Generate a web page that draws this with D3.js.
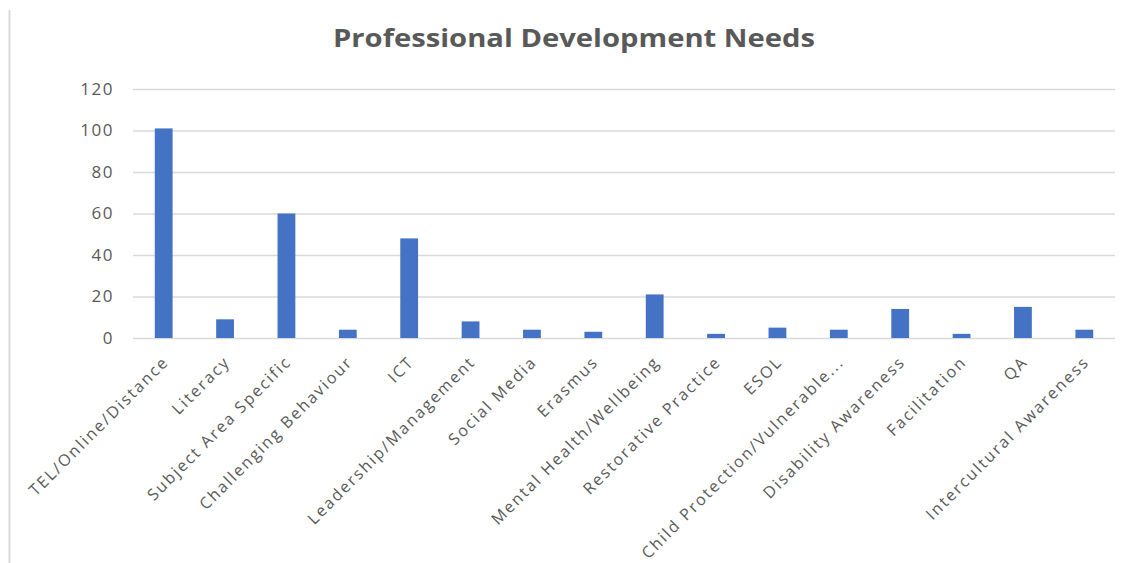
<!DOCTYPE html>
<html>
<head>
<meta charset="utf-8">
<script src="https://cdn.jsdelivr.net/npm/d3@7"></script>
<style>
  html, body { margin: 0; padding: 0; background: #fff; }
  svg { display: block; }
</style>
</head>
<body>
<svg id="chart" width="1131" height="563"></svg>
<script>
// Survey responses: number of staff naming each professional development need
const categories = [
  "TEL/Online/Distance", "Literacy", "Subject Area Specific", "Challenging Behaviour",
  "ICT", "Leadership/Management", "Social Media", "Erasmus",
  "Mental Health/Wellbeing", "Restorative Practice", "ESOL", "Child Protection/Vulnerable...",
  "Disability Awareness", "Facilitation", "QA", "Intercultural Awareness"
];
const responses = [101, 9, 60, 4, 48, 8, 4, 3, 21, 2, 5, 4, 14, 2, 15, 4];
const yTicks = [0, 20, 40, 60, 80, 100, 120];
const chartTitle = "Professional Development Needs";

const svg = d3.select("#chart");
const W = 1131, H = 563;
const margin = { left: 133, right: 16, top: 89, bottom: 225 };
const plotW = W - margin.left - margin.right;
const plotH = H - margin.top - margin.bottom;

const textColor = "#595959";
const font = "'Open Sans', 'Liberation Sans', sans-serif";

// chart frame edge on the left
svg.append("line")
  .attr("x1", 9.5).attr("x2", 9.5)
  .attr("y1", 10).attr("y2", H)
  .attr("stroke", "#d9d9d9").attr("stroke-width", 2);

const x = d3.scaleBand()
  .domain(categories)
  .range([0, plotW])
  .paddingInner(0.71)
  .paddingOuter(0.355);

const y = d3.scaleLinear()
  .domain([0, 120])
  .range([plotH, 0]);

const g = svg.append("g")
  .attr("transform", `translate(${margin.left},${margin.top})`);

// horizontal gridlines with value labels
const yAxis = d3.axisLeft(y)
  .tickValues(yTicks)
  .tickSize(-plotW)
  .tickPadding(19);

const yg = g.append("g").call(yAxis);
yg.select(".domain").remove();
yg.selectAll(".tick line")
  .attr("stroke", "#d9d9d9")
  .attr("stroke-width", 1.5);
yg.selectAll(".tick text")
  .attr("fill", textColor)
  .style("font-family", font)
  .style("font-size", "17px")
  .style("letter-spacing", "1.5px");

// bars
g.selectAll("rect.bar")
  .data(responses)
  .join("rect")
  .attr("class", "bar")
  .attr("x", (d, i) => x(categories[i]))
  .attr("width", x.bandwidth())
  .attr("y", d => y(d))
  .attr("height", d => y(0) - y(d))
  .attr("fill", "#4472c4");

// category labels, rotated
const xAxis = d3.axisBottom(x).tickSize(0).tickPadding(0);
const xg = g.append("g")
  .attr("transform", `translate(0,${plotH})`)
  .call(xAxis);
xg.select(".domain").remove();
xg.selectAll(".tick text")
  .attr("fill", textColor)
  .style("font-family", font)
  .style("font-size", "16px")
  .style("letter-spacing", "2px")
  .attr("text-anchor", "end")
  .attr("dy", null)
  .attr("transform", "translate(6,25) rotate(-45)");

// title
svg.append("text")
  .attr("x", 574)
  .attr("y", 47)
  .attr("text-anchor", "middle")
  .attr("fill", textColor)
  .style("font-family", font)
  .style("font-weight", "bold")
  .style("font-size", "25px")
  .attr("textLength", 482)
  .attr("lengthAdjust", "spacingAndGlyphs")
  .text(chartTitle);
</script>
</body>
</html>
